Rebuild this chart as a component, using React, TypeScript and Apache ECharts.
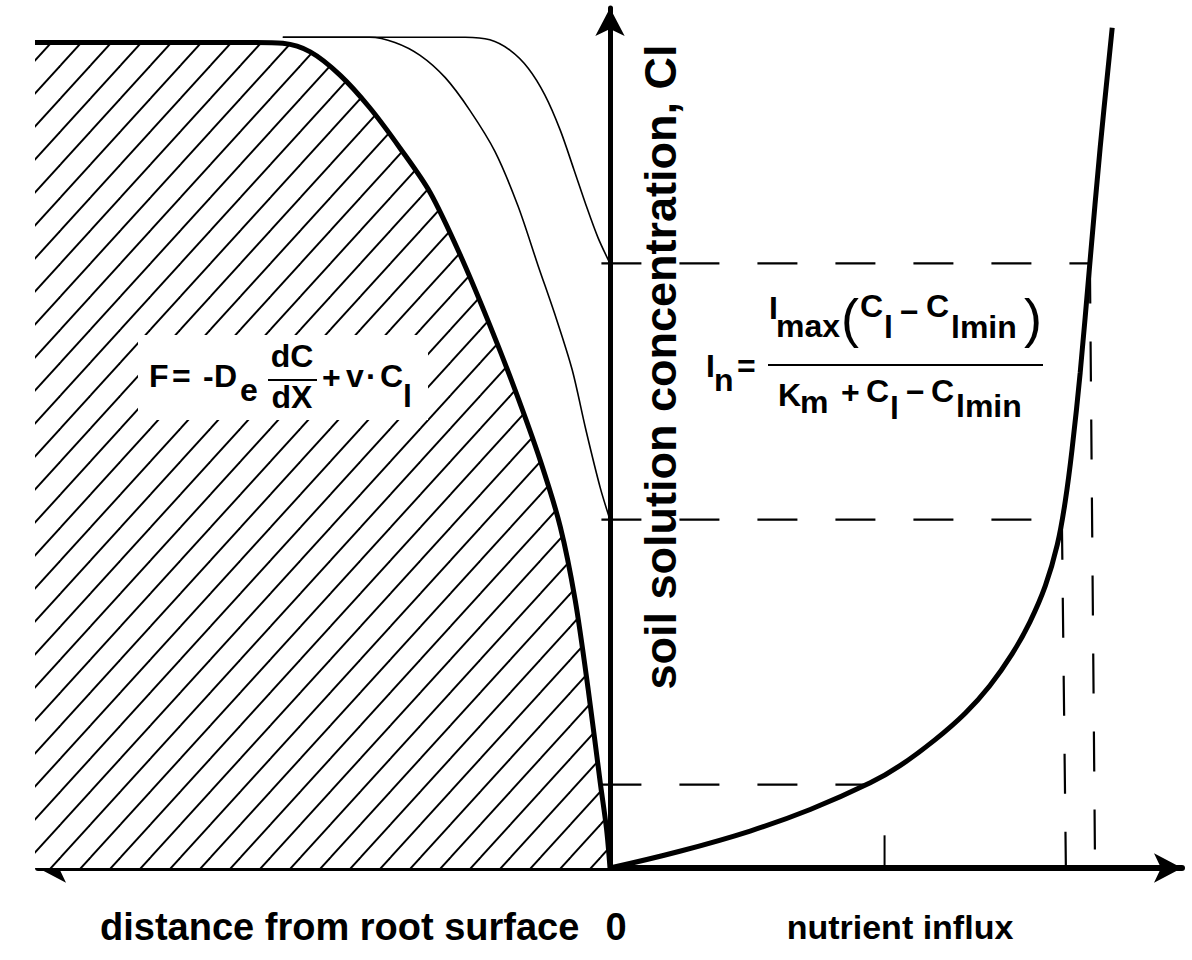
import React, { useEffect, useRef } from "react";
import * as echarts from "echarts";

// Depletion profile near the root (thick curve, hatched area below it)
const depletionDist = [-103, -62, -57.2, -52.4, -47.2, -42.0, -36.7, -31.5, -26.2, -21.0, -16.6, -12.2, -8.7, -6.1, -3.8, -1.7, -0.6, 0];
const depletionConc = [96, 96, 95.9, 94.9, 92.2, 88.4, 83.7, 78.6, 71.3, 63.1, 55.6, 47.4, 39.7, 31.2, 20.7, 9.9, 4.5, 0];

// Intermediate profile (thin)
const middleDist = [-57.2, -42.0, -37.6, -33.2, -28.8, -24.5, -20.1, -16.1, -12.6, -9.4, -6.6, -4.2, -1.7, 0];
const middleConc = [96.6, 96.6, 96.0, 94.5, 91.9, 88.1, 83.3, 77.0, 70.1, 63.9, 57.9, 50.9, 44.2, 40.5];

// Outer profile (thin)
const outerDist = [-57.2, -25.3, -21.0, -17.5, -14.3, -11.4, -8.7, -6.3, -4.2, -2.1, 0];
const outerConc = [96.6, 96.6, 96.3, 95.1, 93.0, 89.9, 85.8, 81.2, 77.1, 73.3, 70.3];

// Nutrient influx vs. concentration curve
const influxX = [0, 12.2, 24.5, 35.0, 45.5, 50.7, 56.8, 62.1, 66.4, 70.3, 73.4, 76.1, 78.2, 79.6, 80.8, 82.2, 83.9, 85.7, 87.8];
const influxConc = [0, 1.95, 4.3, 6.8, 9.9, 11.9, 14.9, 18.0, 21.2, 24.9, 28.6, 32.8, 37.6, 42.7, 48.8, 57.6, 70.4, 83.8, 97.7];

// Reference concentration levels and their influx values
const concLevels = [70.3, 40.5, 9.7];
const levelInflux = [83.9, 79.0, 45.3];
const levelInfluxAtAxis = [84.8, 79.7, 48.0];
const lowTickTop = 3.8; // lowest level: only a short tick on the influx axis

const FONT = '"Liberation Sans", Arial, Helvetica, sans-serif';

function zip(a: number[], b: number[]) {
  return a.map((v, i) => [v, b[i]]);
}

function makeHatch() {
  const w = 30;
  const h = 33;
  const c = document.createElement("canvas");
  c.width = w;
  c.height = h;
  const ctx = c.getContext("2d")!;
  ctx.fillStyle = "#ffffff";
  ctx.fillRect(0, 0, w, h);
  ctx.strokeStyle = "#000000";
  ctx.lineWidth = 1.9;
  for (let k = 0; k <= 2; k++) {
    ctx.beginPath();
    ctx.moveTo(k * w + w, -h);
    ctx.lineTo(k * w - 2 * w, 2 * h);
    ctx.stroke();
  }
  return { image: c, repeat: "repeat", imageWidth: w, imageHeight: h } as any;
}

function txt(text: string, x: number, y: number, size = 32, align = "left", extra: any = {}, weight = "bold") {
  return {
    type: "text",
    x,
    y,
    z: 11,
    silent: true,
    ...extra,
    style: {
      text,
      font: `${weight} ${size}px ${FONT}`,
      fill: "#000",
      align,
      verticalAlign: "middle",
    },
  };
}

function bar(x1: number, x2: number, y: number) {
  return {
    type: "line",
    z: 11,
    silent: true,
    shape: { x1, y1: y, x2, y2: y },
    style: { stroke: "#000", lineWidth: 2 },
  };
}

export default function App() {
  const ref = useRef<HTMLDivElement>(null);

  useEffect(() => {
    if (!ref.current) return;
    const chart = echarts.init(ref.current, null, { renderer: "svg" });

    const thin = { color: "#000", width: 1.6 };
    const dashStyle = { color: "#000", width: 2.2, type: [40, 38] as any };

    const levelSeries: any[] = [];
    concLevels.forEach((lvl, i) => {
      const last = i === concLevels.length - 1;
      levelSeries.push({
        type: "line",
        data: [[-1.5, lvl], [levelInflux[i], lvl]],
        symbol: "none",
        silent: true,
        lineStyle: dashStyle,
        z: 2,
      });
      levelSeries.push({
        type: "line",
        data: last
          ? [[levelInfluxAtAxis[i], lowTickTop], [levelInfluxAtAxis[i], 0]]
          : [[levelInflux[i], lvl], [levelInfluxAtAxis[i], 0]],
        symbol: "none",
        silent: true,
        lineStyle: last ? { color: "#000", width: 2 } : dashStyle,
        z: 2,
      });
    });

    chart.setOption({
      animation: false,
      backgroundColor: "#ffffff",
      grid: { left: 38, right: 10, top: 8, bottom: 92, containLabel: false },
      xAxis: {
        type: "value",
        min: -100,
        max: 100,
        axisLine: {
          show: true,
          onZero: true,
          symbol: ["arrow", "arrow"],
          symbolSize: [22, 28],
          lineStyle: { color: "#000", width: 6 },
        },
        axisTick: { show: false },
        axisLabel: { show: false },
        splitLine: { show: false },
      },
      yAxis: {
        type: "value",
        min: 0,
        max: 100,
        axisLine: {
          show: true,
          onZero: true,
          symbol: ["none", "arrow"],
          symbolSize: [22, 28],
          lineStyle: { color: "#000", width: 5 },
        },
        axisTick: { show: false },
        axisLabel: { show: false },
        splitLine: { show: false },
      },
      series: [
        {
          type: "line",
          data: zip(depletionDist, depletionConc),
          symbol: "none",
          smooth: 0.3,
          clip: false,
          silent: true,
          lineStyle: { color: "#000", width: 5 },
          areaStyle: { color: makeHatch(), opacity: 1 },
          z: 3,
        },
        {
          type: "line",
          data: zip(middleDist, middleConc),
          symbol: "none",
          smooth: 0.3,
          silent: true,
          lineStyle: thin,
          z: 4,
        },
        {
          type: "line",
          data: zip(outerDist, outerConc),
          symbol: "none",
          smooth: 0.3,
          silent: true,
          lineStyle: thin,
          z: 4,
        },
        {
          type: "line",
          data: zip(influxX, influxConc),
          symbol: "none",
          smooth: 0.4,
          clip: false,
          silent: true,
          lineStyle: { color: "#000", width: 5 },
          z: 5,
        },
        ...levelSeries,
      ],
      graphic: [
        // axis titles
        txt("distance from root surface", 100, 927, 38),
        txt("0", 616, 927, 38, "center"),
        txt("nutrient influx", 900, 927, 34, "center"),
        txt("soil solution concentration, Cl", 660, 367, 45, "center", { rotation: Math.PI / 2 }),
        // left formula: F = -De dC/dX + v·Cl (white box over the hatching)
        { type: "rect", shape: { x: 138, y: 335, width: 290, height: 85 }, style: { fill: "#fff" }, silent: true, z: 10 },
        txt("F", 149, 376),
        txt("=", 172, 376),
        txt("-", 203, 376),
        txt("D", 214, 376),
        txt("e", 240, 390),
        txt("dC", 292, 356, 32, "center"),
        bar(268, 317, 380),
        txt("dX", 292, 397, 32, "center"),
        txt("+", 322, 377),
        txt("v", 346, 376),
        txt("·", 366, 376),
        txt("C", 380, 376),
        txt("l", 403, 396),
        // right formula: In = Imax(Cl - Clmin)/(Km + Cl - Clmin)
        txt("I", 706, 366),
        txt("n", 714, 380),
        txt("=", 737, 366),
        txt("I", 769, 308),
        txt("max", 776, 326),
        txt("(", 841, 318, 54, "left", {}, "normal"),
        txt("C", 860, 306),
        txt("l", 884, 327),
        txt("−", 900, 312),
        txt("C", 926, 306),
        txt("lmin", 951, 327),
        txt(")", 1024, 318, 54, "left", {}, "normal"),
        bar(768, 1043, 365),
        txt("K", 778, 395),
        txt("m", 800, 402),
        txt("+", 841, 392),
        txt("C", 866, 391),
        txt("l", 890, 408),
        txt("−", 906, 392),
        txt("C", 931, 391),
        txt("lmin", 956, 406),
      ],
    });

    return () => chart.dispose();
  }, []);

  return (
    <div
      ref={ref}
      style={{ position: "absolute", left: 0, top: 0, width: 1192, height: 960, background: "#fff" }}
    />
  );
}
